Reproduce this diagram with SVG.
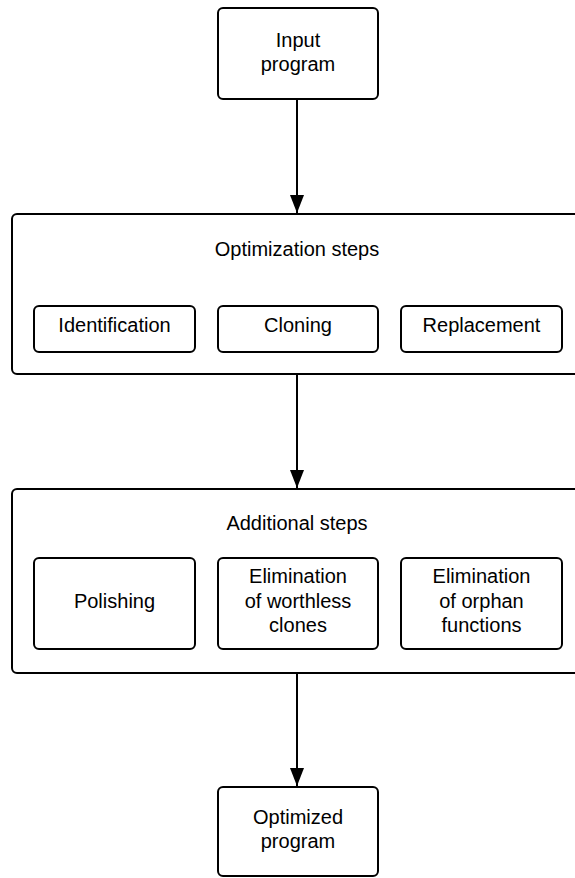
<svg xmlns="http://www.w3.org/2000/svg" width="575" height="878" viewBox="0 0 575 878">
<style>
.box{fill:#fff;stroke:#000;stroke-width:2}
.t{font-family:"Liberation Sans",Arial,sans-serif;font-size:20px;fill:#000;text-anchor:middle}
.c{stroke:#000;stroke-width:2;fill:none}
</style>
<defs>
<marker id="arr" viewBox="0 0 14 18" refX="7" refY="18" markerWidth="14" markerHeight="18" markerUnits="userSpaceOnUse" orient="0">
<path d="M0,0 L14,0 L7,18 Z" fill="#000"/>
</marker>
</defs>
<rect width="575" height="878" fill="#fff"/>
<g id="input">
<rect class="box" x="218" y="8" width="160" height="91" rx="5"/>
<text class="t" x="298" y="47">Input</text>
<text class="t" x="298" y="71">program</text>
</g>
<g id="optimization">
<rect class="box" x="12" y="214" width="571" height="160" rx="5"/>
<text class="t" x="297" y="256">Optimization steps</text>
</g>
<g id="identification">
<rect class="box" x="34" y="306" width="161" height="46" rx="5"/>
<text class="t" x="114.5" y="332">Identification</text>
</g>
<g id="cloning">
<rect class="box" x="218" y="306" width="160" height="46" rx="5"/>
<text class="t" x="298" y="332">Cloning</text>
</g>
<g id="replacement">
<rect class="box" x="401" y="306" width="161" height="46" rx="5"/>
<text class="t" x="481.5" y="332">Replacement</text>
</g>
<g id="additional">
<rect class="box" x="12" y="489" width="571" height="184" rx="5"/>
<text class="t" x="297" y="530">Additional steps</text>
</g>
<g id="polishing">
<rect class="box" x="34" y="558" width="161" height="91" rx="5"/>
<text class="t" x="114.5" y="608">Polishing</text>
</g>
<g id="worthless">
<rect class="box" x="218" y="558" width="160" height="91" rx="5"/>
<text class="t" x="298" y="583">Elimination</text>
<text class="t" x="298" y="608">of worthless</text>
<text class="t" x="298" y="632">clones</text>
</g>
<g id="orphan">
<rect class="box" x="401" y="558" width="161" height="91" rx="5"/>
<text class="t" x="481.5" y="583">Elimination</text>
<text class="t" x="481.5" y="608">of orphan</text>
<text class="t" x="481.5" y="632">functions</text>
</g>
<g id="optimized">
<rect class="box" x="218" y="787" width="160" height="89" rx="5"/>
<text class="t" x="298" y="824">Optimized</text>
<text class="t" x="298" y="848">program</text>
</g>
<g id="connectors">
<line class="c" x1="297" y1="99" x2="297" y2="213" marker-end="url(#arr)"/>
<line class="c" x1="297" y1="374" x2="297" y2="488" marker-end="url(#arr)"/>
<line class="c" x1="297" y1="673" x2="297" y2="786" marker-end="url(#arr)"/>
</g>
</svg>
